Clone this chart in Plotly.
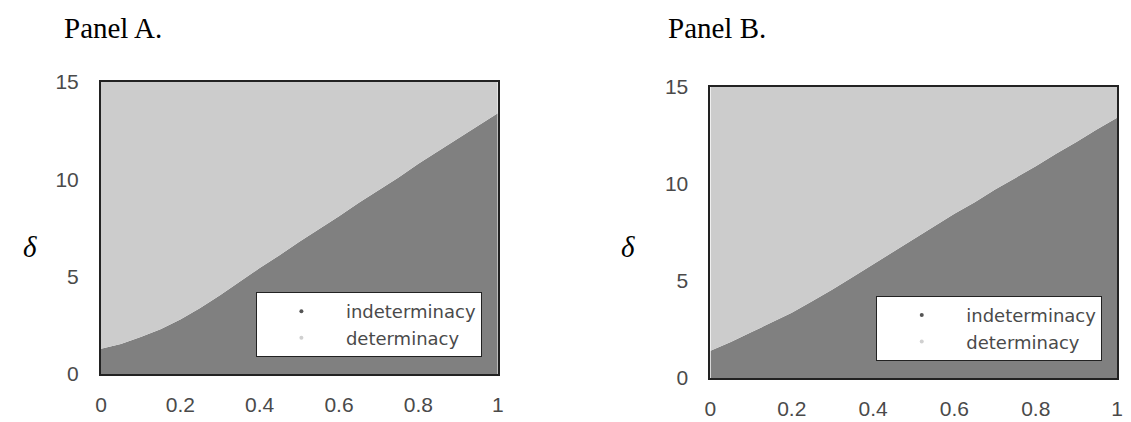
import plotly.graph_objects as go

# ---- data ----
x_vals = [0.0, 0.05, 0.1, 0.15, 0.2, 0.25, 0.3, 0.35, 0.4, 0.45, 0.5,
          0.55, 0.6, 0.65, 0.7, 0.75, 0.8, 0.85, 0.9, 0.95, 1.0]
# Panel A: boundary between indeterminacy (below) and determinacy (above)
boundary_a = [1.3, 1.55, 1.9, 2.3, 2.8, 3.4, 4.05, 4.75, 5.45, 6.1, 6.8,
              7.45, 8.1, 8.8, 9.45, 10.1, 10.8, 11.45, 12.1, 12.75, 13.4]
# Panel B
boundary_b = [1.4, 1.85, 2.35, 2.85, 3.35, 3.95, 4.55, 5.2, 5.85, 6.5, 7.15,
              7.8, 8.45, 9.05, 9.7, 10.3, 10.9, 11.55, 12.15, 12.8, 13.4]
y_top = [15.0] * len(x_vals)

x_tickvals = [0, 0.2, 0.4, 0.6, 0.8, 1]
x_ticktext = ["0", "0.2", "0.4", "0.6", "0.8", "1"]
y_tickvals = [0, 5, 10, 15]
y_ticktext = ["0", "5", "10", "15"]

panel_titles = ["Panel A.", "Panel B."]
series_names = ["indeterminacy", "determinacy"]

DARK = "#808080"
LIGHT = "#cccccc"
W, H = 1131, 422

fig = go.Figure()

def add_panel(boundary, xa, ya, legend):
    fig.add_trace(go.Scatter(x=x_vals, y=boundary, mode="lines", line=dict(width=0, color=DARK),
                             fill="tozeroy", fillcolor=DARK, showlegend=False,
                             xaxis=xa, yaxis=ya, hoverinfo="skip"))
    fig.add_trace(go.Scatter(x=x_vals, y=y_top, mode="lines", line=dict(width=0, color=LIGHT),
                             fill="tonexty", fillcolor=LIGHT, showlegend=False,
                             xaxis=xa, yaxis=ya, hoverinfo="skip"))
    fig.add_trace(go.Scatter(x=[None], y=[None], mode="markers", name=series_names[0],
                             marker=dict(size=4, color="#555555"), legend=legend,
                             xaxis=xa, yaxis=ya))
    fig.add_trace(go.Scatter(x=[None], y=[None], mode="markers", name=series_names[1],
                             marker=dict(size=4, color="#d0d0d0"), legend=legend,
                             xaxis=xa, yaxis=ya))

add_panel(boundary_a, "x", "y", "legend")
add_panel(boundary_b, "x2", "y2", "legend2")

def px_x(p):
    return p / W

def px_y(p):
    return 1 - p / H

axis_common = dict(showgrid=False, zeroline=False, showline=True, mirror=True,
                   linecolor="#222222", linewidth=2, ticks="",
                   tickfont=dict(family="Liberation Sans, Arial", size=21, color="#4a4a4a"))

legend_common = dict(xanchor="right", yanchor="bottom", bgcolor="white",
                     bordercolor="#222222", borderwidth=1, itemwidth=79,
                     traceorder="normal",
                     font=dict(family="DejaVu Sans", size=18, color="#4a4a4a"))

fig.update_layout(
    width=W, height=H,
    margin=dict(l=0, r=0, t=0, b=0),
    paper_bgcolor="white", plot_bgcolor="white",
    xaxis=dict(domain=[px_x(96), px_x(497)], range=[0, 1], tickvals=x_tickvals,
               ticktext=x_ticktext, anchor="y", ticklabelstandoff=11, **axis_common),
    yaxis=dict(domain=[px_y(383), px_y(74)], range=[0, 15], tickvals=y_tickvals,
               ticktext=y_ticktext, anchor="x", ticklabelstandoff=16, **axis_common),
    xaxis2=dict(domain=[px_x(712), px_x(1123)], range=[0, 1], tickvals=x_tickvals,
                ticktext=x_ticktext, anchor="y2", ticklabelstandoff=11, **axis_common),
    yaxis2=dict(domain=[px_y(387), px_y(79)], range=[0, 15], tickvals=y_tickvals,
                ticktext=y_ticktext, anchor="x2", ticklabelstandoff=16, **axis_common),
    legend=dict(x=px_x(481), y=px_y(365), **legend_common),
    legend2=dict(x=px_x(1108), y=px_y(369), **legend_common),
)

title_font = dict(family="Liberation Serif, Times New Roman", size=29, color="black")
delta_font = dict(family="Liberation Serif, Times New Roman", size=29, color="black")
annotations = [
    dict(text=panel_titles[0], x=px_x(57), y=px_y(17), xanchor="left", yanchor="middle", font=title_font),
    dict(text=panel_titles[1], x=px_x(667), y=px_y(17), xanchor="left", yanchor="middle", font=title_font),
    dict(text="<i>δ</i>", x=px_x(24), y=px_y(249), xanchor="center", yanchor="middle", font=delta_font),
    dict(text="<i>δ</i>", x=px_x(629), y=px_y(249), xanchor="center", yanchor="middle", font=delta_font),
]
for a in annotations:
    fig.add_annotation(xref="paper", yref="paper", showarrow=False, **a)

fig.write_html("out.html", config={"displayModeBar": False},
               post_script="document.body.style.margin='0';document.body.style.overflow='hidden';")
